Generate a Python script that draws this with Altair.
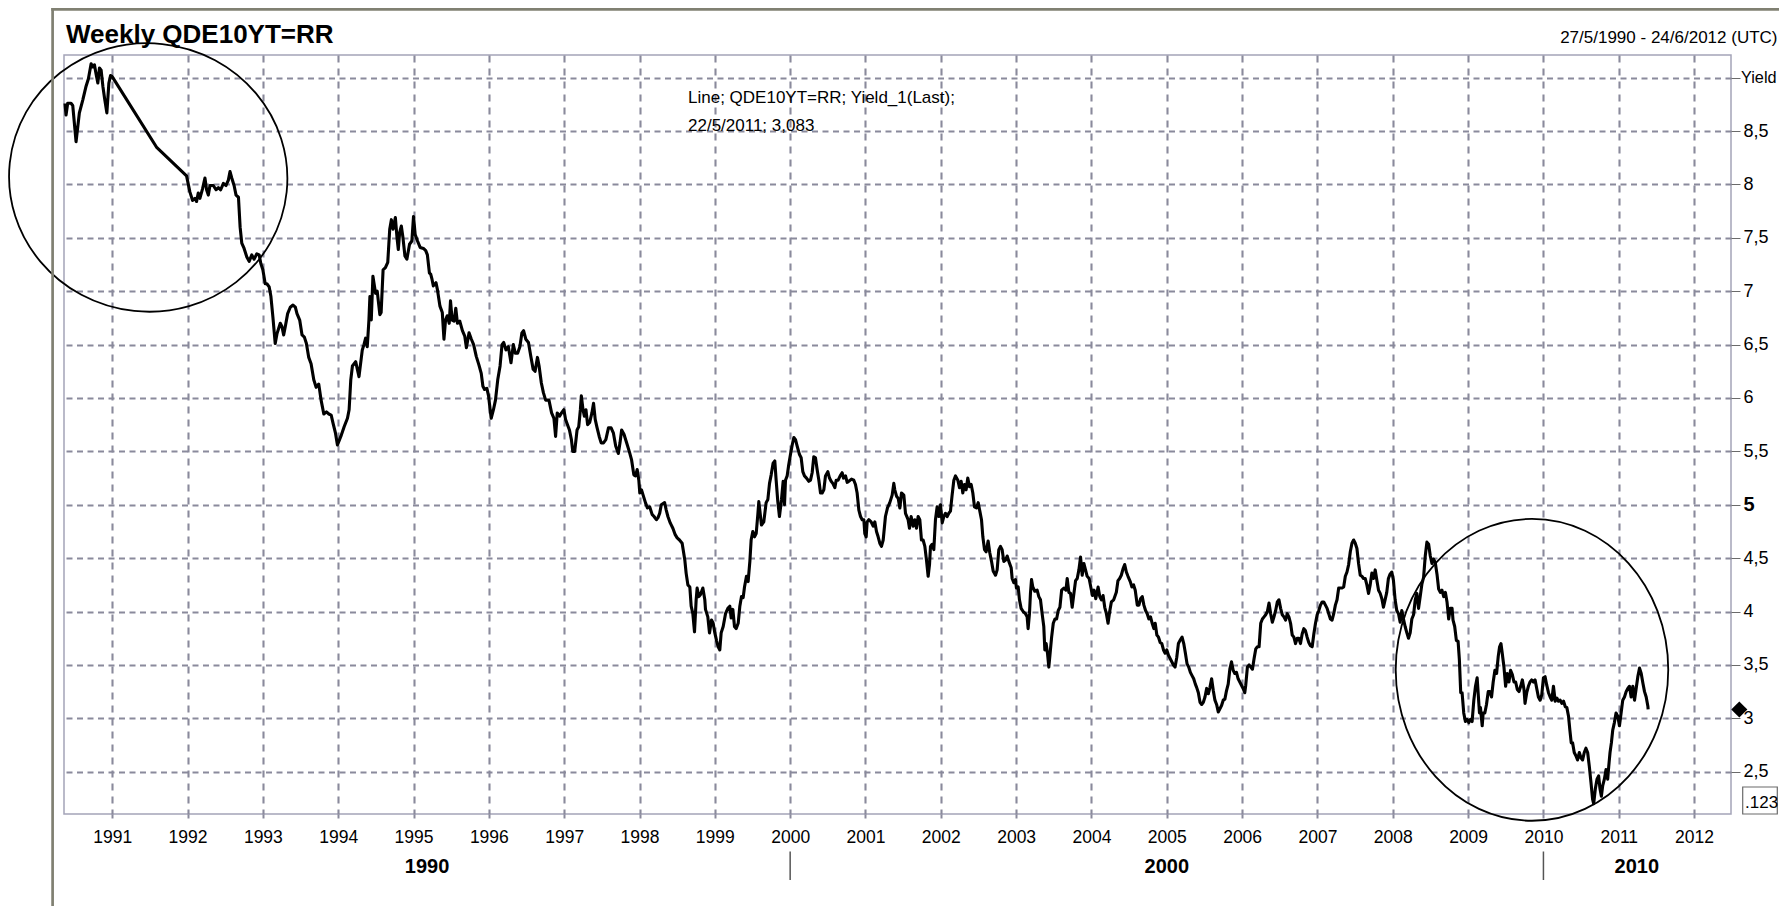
import altair as alt
import pandas as pd

# ---------------- data ----------------
week = [
    1990.373, 1990.387, 1990.409, 1990.453, 1990.476, 1990.520, 1990.564, 1990.609, 1990.653, 1990.684,
    1990.720, 1990.742, 1990.764, 1990.787, 1990.809, 1990.831, 1990.853, 1990.876, 1990.898, 1990.929,
    1990.956, 1990.978, 1991.000, 1991.587, 1991.987, 1992.031, 1992.067, 1992.098, 1992.120, 1992.142,
    1992.164, 1992.200, 1992.231, 1992.253, 1992.276, 1992.298, 1992.342, 1992.378, 1992.409, 1992.440,
    1992.476, 1992.511, 1992.542, 1992.564, 1992.587, 1992.618, 1992.644, 1992.676, 1992.698, 1992.720,
    1992.751, 1992.787, 1992.818, 1992.853, 1992.884, 1992.920, 1992.951, 1992.973, 1993.000, 1993.031,
    1993.053, 1993.084, 1993.107, 1993.133, 1993.164, 1993.187, 1993.231, 1993.253, 1993.276, 1993.298,
    1993.329, 1993.364, 1993.400, 1993.431, 1993.453, 1993.489, 1993.520, 1993.551, 1993.578, 1993.609,
    1993.640, 1993.676, 1993.707, 1993.742, 1993.773, 1993.809, 1993.844, 1993.876, 1993.907, 1993.933,
    1993.964, 1993.990,
    1994.035, 1994.079, 1994.123, 1994.145, 1994.167, 1994.189, 1994.232, 1994.276, 1994.320, 1994.342,
    1994.364, 1994.386, 1994.408, 1994.421, 1994.439, 1994.461, 1994.496, 1994.518, 1994.553, 1994.570,
    1994.596, 1994.627, 1994.658, 1994.684, 1994.706, 1994.728, 1994.759, 1994.781, 1994.798, 1994.816,
    1994.838, 1994.860, 1994.886, 1994.912, 1994.947, 1994.978, 1995.000, 1995.022, 1995.053, 1995.088,
    1995.132, 1995.162, 1995.184, 1995.211, 1995.228, 1995.246, 1995.263, 1995.298, 1995.316, 1995.351,
    1995.382, 1995.404, 1995.425, 1995.447, 1995.474, 1995.491, 1995.513, 1995.539, 1995.561, 1995.583,
    1995.614, 1995.649, 1995.680, 1995.702, 1995.737, 1995.768, 1995.798, 1995.833, 1995.868, 1995.899,
    1995.921, 1995.943, 1995.974, 1995.996, 1996.031, 1996.061, 1996.088, 1996.118, 1996.149, 1996.175,
    1996.197, 1996.228, 1996.259, 1996.294, 1996.325, 1996.351, 1996.382, 1996.412, 1996.439, 1996.461,
    1996.491, 1996.526, 1996.557, 1996.588, 1996.614, 1996.645, 1996.667, 1996.697, 1996.724, 1996.754,
    1996.798, 1996.833, 1996.864, 1996.886, 1996.908, 1996.939, 1996.965, 1996.996, 1997.018, 1997.044,
    1997.070, 1997.096, 1997.114, 1997.140, 1997.171, 1997.193, 1997.215, 1997.228, 1997.250, 1997.268,
    1997.289, 1997.311, 1997.338, 1997.368, 1997.390, 1997.412, 1997.434, 1997.465, 1997.491, 1997.522,
    1997.553, 1997.588, 1997.623, 1997.654, 1997.684, 1997.719, 1997.741, 1997.763, 1997.794, 1997.829,
    1997.864, 1997.895, 1997.925, 1997.947, 1997.969, 1997.991, 1998.004, 1998.026, 1998.048, 1998.079,
    1998.105, 1998.136, 1998.167, 1998.193, 1998.224, 1998.246, 1998.268, 1998.289, 1998.333, 1998.355,
    1998.377, 1998.408, 1998.443, 1998.474, 1998.500, 1998.531,
    1998.566, 1998.602, 1998.619, 1998.642, 1998.668, 1998.686, 1998.708, 1998.730, 1998.752, 1998.765,
    1998.788, 1998.810, 1998.841, 1998.867, 1998.876, 1998.907, 1998.929, 1998.956, 1998.978, 1999.000,
    1999.022, 1999.044, 1999.066, 1999.084, 1999.111, 1999.142, 1999.173, 1999.199, 1999.217, 1999.239,
    1999.261, 1999.283, 1999.310, 1999.332, 1999.354, 1999.376, 1999.394, 1999.420, 1999.442, 1999.465,
    1999.482, 1999.504, 1999.527, 1999.549, 1999.571, 1999.584, 1999.597, 1999.619, 1999.650, 1999.681,
    1999.704, 1999.726, 1999.748, 1999.774, 1999.796, 1999.814, 1999.836, 1999.858, 1999.885, 1999.907,
    1999.925, 1999.938, 1999.960, 1999.982, 2000.004, 2000.027, 2000.049, 2000.071, 2000.093, 2000.124,
    2000.146, 2000.168, 2000.190, 2000.217, 2000.248, 2000.270, 2000.292, 2000.314, 2000.336, 2000.358,
    2000.381, 2000.403, 2000.425, 2000.447, 2000.469, 2000.500, 2000.522, 2000.544, 2000.566, 2000.593,
    2000.611, 2000.637, 2000.664, 2000.690, 2000.708, 2000.735, 2000.757, 2000.779, 2000.814, 2000.845,
    2000.867, 2000.889, 2000.912, 2000.934, 2000.956, 2000.978, 2000.991, 2001.009, 2001.022, 2001.044,
    2001.075, 2001.102, 2001.124, 2001.146, 2001.168, 2001.190, 2001.212, 2001.235, 2001.265, 2001.292,
    2001.323, 2001.354, 2001.376, 2001.389, 2001.412, 2001.434, 2001.456, 2001.478, 2001.509, 2001.531,
    2001.566, 2001.584, 2001.606, 2001.633, 2001.655, 2001.677, 2001.699, 2001.721, 2001.743, 2001.765,
    2001.788, 2001.810, 2001.832, 2001.850, 2001.863, 2001.885, 2001.907, 2001.929, 2001.951, 2001.973,
    2001.996, 2002.018, 2002.040, 2002.062, 2002.084, 2002.106, 2002.128, 2002.150, 2002.173, 2002.195,
    2002.226, 2002.248, 2002.270, 2002.292, 2002.314, 2002.336, 2002.358, 2002.381, 2002.403, 2002.425,
    2002.447, 2002.473, 2002.496, 2002.518, 2002.540, 2002.558, 2002.580, 2002.602, 2002.628, 2002.650,
    2002.673, 2002.695, 2002.726, 2002.748, 2002.770, 2002.792, 2002.814, 2002.836, 2002.858, 2002.881,
    2002.903, 2002.934, 2002.947, 2002.969, 2002.991, 2003.004, 2003.027, 2003.044, 2003.066, 2003.093,
    2003.124, 2003.146, 2003.159, 2003.177, 2003.190, 2003.204, 2003.221, 2003.248, 2003.279, 2003.301,
    2003.323, 2003.345, 2003.367, 2003.381, 2003.398, 2003.416, 2003.434,
    2003.471, 2003.493, 2003.515, 2003.537, 2003.559, 2003.581, 2003.604, 2003.634, 2003.661, 2003.678,
    2003.700, 2003.722, 2003.744, 2003.767, 2003.789, 2003.811, 2003.833, 2003.855, 2003.877, 2003.899,
    2003.921, 2003.943, 2003.969, 2003.991, 2004.013, 2004.035, 2004.057, 2004.088, 2004.110, 2004.132,
    2004.154, 2004.176, 2004.198, 2004.220, 2004.242, 2004.264, 2004.295, 2004.330, 2004.352, 2004.374,
    2004.396, 2004.419, 2004.441, 2004.463, 2004.485, 2004.515, 2004.537, 2004.559, 2004.581, 2004.608,
    2004.630, 2004.652, 2004.674, 2004.696, 2004.718, 2004.740, 2004.762, 2004.784, 2004.806, 2004.828,
    2004.846, 2004.868, 2004.890, 2004.912, 2004.934, 2004.956, 2004.978, 2005.000, 2005.022, 2005.044,
    2005.066, 2005.088, 2005.110, 2005.132, 2005.154, 2005.176, 2005.203, 2005.225, 2005.247, 2005.269,
    2005.291, 2005.313, 2005.335, 2005.357, 2005.379, 2005.396, 2005.419, 2005.441, 2005.463, 2005.485,
    2005.507, 2005.529, 2005.551, 2005.573, 2005.595, 2005.617, 2005.639, 2005.661, 2005.683, 2005.705,
    2005.727, 2005.749, 2005.771, 2005.793, 2005.815, 2005.837, 2005.859, 2005.881, 2005.903, 2005.925,
    2005.947, 2005.969, 2005.991, 2006.013, 2006.035, 2006.048, 2006.070, 2006.093, 2006.115, 2006.137,
    2006.159, 2006.181, 2006.203, 2006.225, 2006.247, 2006.269, 2006.291, 2006.313, 2006.335, 2006.357,
    2006.379, 2006.401, 2006.423, 2006.445, 2006.467, 2006.489, 2006.511, 2006.533, 2006.555, 2006.577,
    2006.599, 2006.621, 2006.643, 2006.665, 2006.687, 2006.709, 2006.731, 2006.753, 2006.775, 2006.797,
    2006.819, 2006.841, 2006.863, 2006.885, 2006.907, 2006.930, 2006.952, 2006.974, 2006.996, 2007.018,
    2007.040, 2007.062, 2007.084, 2007.106, 2007.128, 2007.150, 2007.172, 2007.194, 2007.216, 2007.238,
    2007.260, 2007.282, 2007.304, 2007.326, 2007.348, 2007.370, 2007.392, 2007.414, 2007.436, 2007.458,
    2007.480, 2007.502, 2007.524, 2007.546, 2007.568, 2007.590, 2007.612, 2007.634, 2007.656, 2007.678,
    2007.700, 2007.722, 2007.744, 2007.767, 2007.789, 2007.811, 2007.833, 2007.855,
    2007.876, 2007.898, 2007.920, 2007.942, 2007.964, 2007.987, 2008.009, 2008.031, 2008.053, 2008.076,
    2008.098, 2008.120, 2008.142, 2008.164, 2008.187, 2008.209, 2008.231, 2008.253, 2008.276, 2008.298,
    2008.320, 2008.342, 2008.364, 2008.387, 2008.409, 2008.431, 2008.453, 2008.476, 2008.498, 2008.520,
    2008.542, 2008.564, 2008.587, 2008.609, 2008.631, 2008.653, 2008.676, 2008.698, 2008.720, 2008.742,
    2008.764, 2008.787, 2008.800, 2008.822, 2008.844, 2008.867, 2008.884, 2008.902, 2008.920, 2008.942,
    2008.964, 2008.987, 2009.009, 2009.031, 2009.053, 2009.076, 2009.098, 2009.120, 2009.133, 2009.151,
    2009.164, 2009.187, 2009.200, 2009.222, 2009.244, 2009.267, 2009.289, 2009.311, 2009.333, 2009.356,
    2009.378, 2009.400, 2009.418, 2009.436, 2009.453, 2009.476, 2009.498, 2009.520, 2009.542, 2009.564,
    2009.587, 2009.609, 2009.631, 2009.653, 2009.676, 2009.698, 2009.720, 2009.742, 2009.756, 2009.778,
    2009.800, 2009.822, 2009.844, 2009.867, 2009.889, 2009.911, 2009.933, 2009.956, 2009.978, 2010.000,
    2010.022, 2010.044, 2010.067, 2010.089, 2010.111, 2010.133, 2010.156, 2010.178, 2010.200, 2010.222,
    2010.244, 2010.267, 2010.289, 2010.311, 2010.333, 2010.351, 2010.369, 2010.387, 2010.409, 2010.431,
    2010.453, 2010.476, 2010.498, 2010.520, 2010.542, 2010.564, 2010.587, 2010.609, 2010.631, 2010.653,
    2010.667, 2010.689, 2010.711, 2010.733, 2010.751, 2010.769, 2010.787, 2010.809, 2010.831, 2010.853,
    2010.867, 2010.884, 2010.902, 2010.920, 2010.942, 2010.964, 2010.987, 2011.009, 2011.031, 2011.053,
    2011.076, 2011.098, 2011.120, 2011.142, 2011.164, 2011.187, 2011.209, 2011.231, 2011.253, 2011.276,
    2011.298, 2011.320, 2011.342, 2011.364, 2011.387, 2011.390,
]

yield_last = [
    8.76, 8.65, 8.76, 8.76, 8.74, 8.40, 8.67, 8.79, 8.92, 8.99,
    9.13, 9.10, 9.12, 9.03, 8.95, 9.09, 9.07, 8.92, 8.81, 8.67,
    8.95, 9.02, 9.01, 8.35, 8.08, 7.93, 7.85, 7.87, 7.84, 7.92,
    7.87, 7.96, 8.06, 7.95, 7.90, 7.99, 7.99, 7.95, 7.97, 7.95,
    8.01, 7.99, 8.04, 8.12, 8.06, 7.99, 7.90, 7.88, 7.60, 7.45,
    7.40, 7.32, 7.28, 7.34, 7.30, 7.35, 7.34, 7.26, 7.20, 7.07,
    7.07, 7.04, 6.95, 6.76, 6.51, 6.60, 6.70, 6.67, 6.59, 6.67,
    6.79, 6.85, 6.87, 6.85, 6.79, 6.73, 6.59, 6.57, 6.51, 6.38,
    6.32, 6.17, 6.10, 6.13, 5.98, 5.85, 5.87, 5.85, 5.84, 5.76,
    5.67, 5.56,
    5.64, 5.73, 5.81, 5.89, 6.17, 6.30, 6.34, 6.20, 6.45, 6.50,
    6.56, 6.48, 6.73, 6.95, 6.73, 7.14, 6.98, 7.00, 6.78, 6.80,
    7.20, 7.22, 7.27, 7.58, 7.67, 7.58, 7.69, 7.50, 7.39, 7.55,
    7.61, 7.50, 7.33, 7.30, 7.44, 7.47, 7.70, 7.53, 7.47, 7.41,
    7.40, 7.38, 7.34, 7.17, 7.16, 7.11, 7.05, 7.08, 7.02, 6.86,
    6.80, 6.55, 6.73, 6.77, 6.70, 6.91, 6.73, 6.72, 6.84, 6.70,
    6.72, 6.63, 6.58, 6.47, 6.61, 6.55, 6.50, 6.39, 6.31, 6.23,
    6.11, 6.08, 6.09, 6.02, 5.81, 5.89, 5.98, 6.17, 6.30, 6.50,
    6.52, 6.45, 6.48, 6.33, 6.50, 6.42, 6.42, 6.48, 6.61, 6.63,
    6.55, 6.52, 6.39, 6.27, 6.25, 6.38, 6.30, 6.14, 6.05, 5.98,
    5.98, 5.86, 5.81, 5.64, 5.86, 5.83, 5.86, 5.89, 5.80, 5.75,
    5.70, 5.61, 5.50, 5.50, 5.70, 5.73, 5.89, 6.02, 5.89, 5.83,
    5.89, 5.75, 5.77, 5.86, 5.95, 5.80, 5.73, 5.64, 5.58, 5.58,
    5.61, 5.72, 5.72, 5.67, 5.55, 5.48, 5.58, 5.70, 5.66, 5.58,
    5.50, 5.42, 5.28, 5.27, 5.33, 5.23, 5.11, 5.14, 5.09, 5.02,
    4.97, 4.98, 4.91, 4.89, 4.86, 4.88, 4.92, 5.00, 5.02, 4.95,
    4.89, 4.83, 4.78, 4.72, 4.69, 4.67,
    4.64, 4.48, 4.36, 4.25, 4.23, 4.05, 3.98, 3.81, 4.11, 4.22,
    4.14, 4.16, 4.22, 4.11, 4.02, 3.95, 3.80, 3.92, 3.89, 3.80,
    3.73, 3.67, 3.64, 3.80, 3.86, 3.98, 4.03, 4.05, 3.94, 4.02,
    3.86, 3.84, 3.89, 4.05, 4.14, 4.13, 4.23, 4.33, 4.28, 4.47,
    4.67, 4.75, 4.70, 4.73, 4.91, 5.03, 4.95, 4.81, 4.84, 5.02,
    5.05, 5.20, 5.28, 5.39, 5.41, 5.23, 5.03, 4.89, 5.05, 5.22,
    5.00, 5.23, 5.27, 5.38, 5.47, 5.56, 5.63, 5.61, 5.55, 5.47,
    5.44, 5.31, 5.27, 5.25, 5.22, 5.23, 5.30, 5.45, 5.44, 5.33,
    5.23, 5.11, 5.11, 5.14, 5.27, 5.31, 5.25, 5.22, 5.20, 5.16,
    5.23, 5.23, 5.27, 5.30, 5.25, 5.27, 5.21, 5.22, 5.24, 5.23,
    5.19, 5.11, 4.95, 4.89, 4.86, 4.86, 4.73, 4.70, 4.84, 4.86,
    4.84, 4.80, 4.84, 4.75, 4.70, 4.64, 4.61, 4.67, 4.89, 4.97,
    5.02, 5.09, 5.20, 5.14, 5.08, 5.06, 4.97, 5.11, 5.09, 4.92,
    4.86, 4.78, 4.89, 4.80, 4.86, 4.78, 4.89, 4.86, 4.67, 4.67,
    4.61, 4.48, 4.33, 4.44, 4.61, 4.63, 4.58, 4.86, 4.98, 4.89,
    5.00, 4.83, 4.89, 4.92, 4.89, 4.92, 4.94, 5.09, 5.23, 5.27,
    5.23, 5.16, 5.22, 5.11, 5.19, 5.14, 5.25, 5.17, 5.19, 5.11,
    4.98, 4.97, 5.02, 4.94, 4.86, 4.70, 4.58, 4.56, 4.66, 4.55,
    4.47, 4.38, 4.34, 4.39, 4.58, 4.61, 4.58, 4.47, 4.48, 4.52,
    4.47, 4.41, 4.31, 4.27, 4.30, 4.22, 4.23, 4.11, 4.03, 4.00,
    3.98, 3.95, 3.84, 3.98, 4.17, 4.30, 4.23, 4.19, 4.20, 4.14,
    4.11, 3.98, 3.86, 3.64, 3.70, 3.61, 3.48,
    3.76, 3.89, 3.93, 3.93, 4.01, 4.04, 4.20, 4.22, 4.20, 4.31,
    4.18, 4.17, 4.04, 4.17, 4.29, 4.31, 4.39, 4.51, 4.34, 4.45,
    4.39, 4.33, 4.31, 4.23, 4.15, 4.20, 4.12, 4.23, 4.14, 4.11,
    4.15, 4.04, 3.98, 3.89, 4.00, 4.09, 4.11, 4.18, 4.29, 4.31,
    4.34, 4.40, 4.44, 4.37, 4.33, 4.28, 4.23, 4.25, 4.20, 4.06,
    4.06, 4.12, 4.14, 4.06, 4.01, 3.98, 3.93, 3.95, 3.89, 3.84,
    3.89, 3.78, 3.76, 3.71, 3.70, 3.64, 3.61, 3.64, 3.59, 3.56,
    3.53, 3.50, 3.48, 3.57, 3.70, 3.73, 3.76, 3.70, 3.61, 3.51,
    3.48, 3.43, 3.40, 3.37, 3.32, 3.29, 3.24, 3.15, 3.13, 3.15,
    3.20, 3.28, 3.23, 3.29, 3.37, 3.26, 3.17, 3.13, 3.06, 3.09,
    3.12, 3.17, 3.18, 3.26, 3.32, 3.46, 3.53, 3.45, 3.42, 3.43,
    3.37, 3.34, 3.31, 3.28, 3.24, 3.31, 3.48, 3.50, 3.48, 3.46,
    3.56, 3.65, 3.67, 3.67, 3.89, 3.93, 3.95, 3.97, 4.00, 4.08,
    3.98, 3.90, 3.95, 4.01, 4.09, 4.11, 4.03, 3.97, 3.95, 3.92,
    3.98, 3.95, 3.89, 3.78, 3.76, 3.70, 3.75, 3.75, 3.70, 3.79,
    3.84, 3.82, 3.76, 3.71, 3.68, 3.67, 3.79, 3.89, 3.97, 4.01,
    4.06, 4.09, 4.09, 4.06, 4.03, 3.98, 3.93, 3.92, 3.98, 4.06,
    4.11, 4.22, 4.22, 4.22, 4.23, 4.33, 4.37, 4.44, 4.56, 4.64,
    4.67, 4.64, 4.59, 4.45, 4.34, 4.33, 4.31, 4.31, 4.25, 4.17,
    4.25, 4.36, 4.31, 4.39, 4.29, 4.20, 4.17, 4.12,
    4.04, 4.11, 4.18, 4.31, 4.35, 4.37, 4.29, 4.11, 4.01, 3.98,
    3.90, 4.01, 3.93, 3.86, 3.80, 3.75, 3.80, 3.93, 3.97, 4.11,
    4.17, 4.03, 4.14, 4.26, 4.32, 4.52, 4.65, 4.63, 4.52, 4.45,
    4.49, 4.46, 4.35, 4.21, 4.18, 4.20, 4.14, 4.18, 4.09, 3.93,
    4.03, 4.03, 3.92, 3.86, 3.73, 3.72, 3.55, 3.24, 3.24, 3.05,
    2.97, 2.99, 2.96, 2.99, 2.97, 3.17, 3.30, 3.38, 3.24, 3.05,
    3.10, 2.93, 3.05, 3.05, 3.13, 3.25, 3.25, 3.20, 3.34, 3.45,
    3.42, 3.58, 3.67, 3.70, 3.61, 3.48, 3.30, 3.42, 3.34, 3.45,
    3.41, 3.34, 3.34, 3.27, 3.25, 3.30, 3.36, 3.27, 3.14, 3.24,
    3.30, 3.34, 3.36, 3.34, 3.36, 3.28, 3.20, 3.17, 3.22, 3.38,
    3.39, 3.31, 3.24, 3.20, 3.17, 3.30, 3.16, 3.19, 3.16, 3.17,
    3.14, 3.16, 3.11, 3.10, 3.02, 2.89, 2.77, 2.77, 2.68, 2.65,
    2.61, 2.68, 2.63, 2.61, 2.68, 2.72, 2.68, 2.55, 2.40, 2.24,
    2.20, 2.34, 2.43, 2.46, 2.34, 2.27, 2.37, 2.43, 2.52, 2.43,
    2.55, 2.68, 2.77, 2.89, 2.96, 3.05, 3.02, 2.93, 3.05, 3.17,
    3.20, 3.25, 3.28, 3.30, 3.20, 3.30, 3.17, 3.28, 3.39, 3.47,
    3.42, 3.33, 3.25, 3.20, 3.11, 3.083,
]

year_ticks = list(range(1991, 2013))
yield_ticks = [2.5, 3.0, 3.5, 4.0, 4.5, 5.0, 5.5, 6.0, 6.5, 7.0, 7.5, 8.0, 8.5, 9.0]
decade_names = ["1990", "2000", "2010"]
decade_mid = [1995.18, 2005.0, 2011.24]
decade_breaks = [2000.0, 2010.0]
circle_x = [1991.478, 2009.848]
circle_y = [8.065, 3.454]

title_text = "Weekly QDE10YT=RR"
range_text = "27/5/1990 - 24/6/2012 (UTC)"
info_text = "Line; QDE10YT=RR; Yield_1(Last);\n22/5/2011; 3,083"
box_text = ".123"

# ---------------- layout / style ----------------
W, H = 1667, 759
PAD = {"left": 56, "top": 47, "right": 48, "bottom": 92}
X_DOMAIN = [1990.36, 2012.49]
Y_DOMAIN = [2.104, 9.212]
FONT = "Liberation Sans, Arial, Helvetica, sans-serif"
GRID = "#8a8a9c"
FRAME = "#808072"

xs = alt.Scale(domain=X_DOMAIN, nice=False, zero=False)
ys = alt.Scale(domain=Y_DOMAIN, nice=False, zero=False)


def ellipse_path(a, b):
    k = 0.5523
    return (f"M {a} 0 C {a} {k*b:.4f} {k*a:.4f} {b} 0 {b} "
            f"C {-k*a:.4f} {b} {-a} {k*b:.4f} {-a} 0 "
            f"C {-a} {-k*b:.4f} {-k*a:.4f} {-b} 0 {-b} "
            f"C {k*a:.4f} {-b} {a} {-k*b:.4f} {a} 0 Z")


df = pd.DataFrame({"week": week, "yield": yield_last})

x_axis = alt.Axis(
    values=year_ticks, format="d", title=None, grid=True, gridColor=GRID,
    gridDash=[7, 6], gridWidth=2.1, domain=False, ticks=True, tickSize=4,
    tickColor=GRID, tickWidth=2, labelFont=FONT, labelFontSize=17.5,
    labelColor="black", labelPadding=10, labelFlush=False, labelOverlap=False,
)
y_axis = alt.Axis(
    orient="right", values=yield_ticks, format=".1~f",
    labelExpr="datum.value == 9 ? 'Yield' : replace(datum.label, '.', ',')",
    title=None, grid=True, gridColor=GRID, gridDash=[6, 4.5], gridWidth=2.1,
    domain=False, ticks=True, tickSize=9, tickColor="#6a6a6a", tickWidth=1,
    labelFont=FONT, labelColor="black",
    labelPadding={"condition": {"test": "datum.value == 9", "value": 0.5}, "value": 3},
    labelFontSize={"condition": [{"test": "datum.value == 5", "value": 20},
                                 {"test": "datum.value == 9", "value": 16.3}], "value": 18},
    labelFontWeight={"condition": {"test": "datum.value == 5", "value": "bold"}, "value": "normal"},
    labelFlush=False, labelOverlap=False, labelBaseline="middle",
)

# every layer that uses a scale carries the same axis definition so they merge cleanly
X = lambda f: alt.X(f, scale=xs, axis=x_axis)
Y = lambda f: alt.Y(f, scale=ys, axis=y_axis)

line = alt.Chart(df).mark_line(color="black", strokeWidth=3.1, strokeJoin="round").encode(
    x=X("week:Q"), y=Y("yield:Q"),
)

one = pd.DataFrame({"k": [0]})

# hand-drawn style ellipses
ell1 = alt.Chart(pd.DataFrame({"cx": [circle_x[0]], "cy": [circle_y[0]]})).mark_point(
    shape=ellipse_path(1, 0.964), size=(2 * 139.2) ** 2, angle=6, filled=False,
    color="black", strokeWidth=1.8, opacity=1,
).encode(x=X("cx:Q"), y=Y("cy:Q"))

ell2 = alt.Chart(pd.DataFrame({"cx": [circle_x[1]], "cy": [circle_y[1]]})).mark_point(
    shape=ellipse_path(0.903, 1), size=(2 * 150.9) ** 2, filled=False,
    color="black", strokeWidth=1.8, opacity=1,
).encode(x=X("cx:Q"), y=Y("cy:Q"))

# last value marker
diamond = alt.Chart(pd.DataFrame({"v": [yield_last[-1]]})).mark_point(
    shape="diamond", filled=True, size=260, color="black", opacity=1,
).encode(x=alt.value(W + 8.3), y=Y("v:Q"))

# decade labels and separators
decades = alt.Chart(pd.DataFrame({"pos": decade_mid, "lab": decade_names})).mark_text(
    font=FONT, fontSize=20, fontWeight="bold", color="black", align="center",
    baseline="alphabetic",
).encode(x=X("pos:Q"), y=alt.value(H + 58.7), text="lab:N")

breaks = alt.Chart(pd.DataFrame({"b": decade_breaks})).mark_rule(
    color="#555555", strokeWidth=1.5,
).encode(x=X("b:Q"), y=alt.value(H + 37.5), y2=alt.value(H + 66))

# texts
title = alt.Chart(pd.DataFrame({"t": [title_text]})).mark_text(
    font=FONT, fontSize=26, fontWeight="bold", color="black", align="left",
    baseline="alphabetic",
).encode(x=alt.value(2), y=alt.value(-12.5), text="t:N")

date_range = alt.Chart(pd.DataFrame({"t": [range_text]})).mark_text(
    font=FONT, fontSize=17, color="black", align="right", baseline="alphabetic",
).encode(x=alt.value(W + 46.5), y=alt.value(-12.3), text="t:N")

info = alt.Chart(pd.DataFrame({"t": [info_text]})).mark_text(
    font=FONT, fontSize=17, color="black", align="left", baseline="alphabetic",
    lineBreak="\n", lineHeight=28,
).encode(x=alt.value(624), y=alt.value(47.7), text="t:N")

box = alt.Chart(one).mark_rect(fill="white", stroke="#6a6a6a", strokeWidth=1.2).encode(
    x=alt.value(W + 11.7), x2=alt.value(W + 46.3), y=alt.value(H - 27), y2=alt.value(H),
)
box_label = alt.Chart(pd.DataFrame({"t": [box_text]})).mark_text(
    font=FONT, fontSize=17, color="black", align="left", baseline="alphabetic",
).encode(x=alt.value(W + 14), y=alt.value(H - 6), text="t:N")

# outer window frame (left and top edges)
frame_left = alt.Chart(one).mark_rule(color=FRAME, strokeWidth=2.7).encode(
    x=alt.value(-11.4), y=alt.value(-47), y2=alt.value(H + PAD["bottom"]),
)
frame_top = alt.Chart(one).mark_rule(color=FRAME, strokeWidth=2.7).encode(
    y=alt.value(-45.7), x=alt.value(-12.7), x2=alt.value(W + PAD["right"]),
)

chart = alt.layer(
    line, ell1, ell2, diamond, decades, breaks, title, date_range, info,
    box, box_label, frame_left, frame_top,
).properties(
    width=W, height=H,
    padding=PAD,
    autosize=alt.AutoSizeParams(type="none"),
    background="white",
).configure_view(stroke="#a4a4b8", strokeWidth=1.5)

chart.save("out.html", embed_options={"renderer": "svg", "actions": False})
